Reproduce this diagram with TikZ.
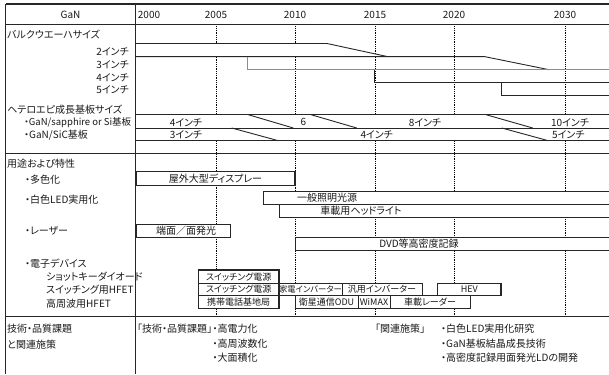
\documentclass[tikz,border=0pt]{standalone}
\usepackage{fontspec}
\setmainfont{Noto Sans CJK JP}[RawFeature={+palt}]
\usetikzlibrary{positioning}

\begin{document}
\begin{tikzpicture}[x=1pt, y=-1pt, font=\fontsize{10}{11}\selectfont,
    waku/.style={line width=1.2pt, black!85},
    sen/.style={line width=0.9pt, black!85},
    tensen/.style={densely dotted, line width=0.8pt, black},
    bar/.style={draw=black!85, line width=0.9pt, fill=white},
    futobar/.style={draw=black!85, line width=1.3pt, fill=white},
    lbl/.style={inner sep=0pt, text=black!90},
    devlbl/.style={lbl, font=\fontsize{9}{10}\selectfont}]
    \useasboundingbox (0,0) rectangle (609,374);

    % 年の点線
    \foreach \x in {216,295,375,454,565}
        \draw[tensen] (\x,24.5) -- (\x,316.7);

    % 白抜き
    \fill[white] (136,43.5) -- (327,43.5) -- (388,56.7) -- (136,56.7) -- cycle;
    \fill[white] (136,114.7) rectangle (609,140.7);

    % バルクウエーハ
    \draw[sen] (136,43.5) -- (327,43.5) -- (388,56.7);
    \draw[sen] (136,56.7) -- (485,56.7) -- (549,69.7);
    \draw[sen, black!45] (247,56.7) -- (247,69.7) -- (609,69.7);
    \draw[sen] (374.3,69.7) -- (374.3,82.3) -- (609,82.3);
    \draw[sen] (501.7,82.3) -- (501.7,95.7) -- (609,95.7);

    % ヘテロエピ基板
    \draw[sen] (136,114.7) -- (609,114.7);
    \draw[sen] (136,128) -- (609,128);
    \draw[sen] (136,140.7) -- (609,140.7);
    \draw[sen] (248.3,114.7) -- (293.3,128);
    \draw[sen] (311,114.7) -- (356.7,128);
    \draw[sen] (486,114.7) -- (532.7,128);
    \draw[sen] (231.7,128) -- (278.3,140.7);
    \draw[sen] (501.7,128) -- (548.3,140.7);

    % 用途の帯
    \draw[bar] (136,171.5) rectangle (295,185.5);
    \draw[line width=1.4pt, black!85] (295,171.5) -- (295,185.5);
    \draw[bar] (263.5,191.7) rectangle (612,204.3);
    \draw[bar] (279,204.3) rectangle (612,217);
    \draw[bar] (136,224) rectangle (230,237.3);
    \draw[bar] (295,237.3) rectangle (612,250);

    % 電子デバイス
    \draw[bar] (279,283.3) rectangle (342,295.7);
    \draw[bar] (342,283.3) rectangle (422,295.7);
    \draw[bar] (437.7,283.3) rectangle (501,295.7);
    \draw[line width=1.4pt, black!85] (501,283.3) -- (501,295.7);
    \draw[bar] (295,295.7) rectangle (358,308.3);
    \draw[bar] (358,295.7) rectangle (390,308.3);
    \draw[bar] (390,295.7) rectangle (470,308.3);
    \draw[futobar] (198.5,270) rectangle (279,283.3);
    \draw[futobar] (198.5,283.3) rectangle (279,295.7);
    \draw[futobar] (198.5,295.7) rectangle (279,308.3);

    % 枠
    \draw[waku] (5.8,4) -- (609,4);
    \draw[waku] (5.8,4) -- (5.8,374);
    \draw[waku] (135.5,4) -- (135.5,374);
    \draw[waku] (5.8,24.5) -- (609,24.5);
    \draw[waku] (5.8,153.7) -- (609,153.7);
    \draw[waku] (5.8,316.7) -- (609,316.7);

    % 見出し
    \node[lbl] (gan) at (70.6,15) {GaN};
    \foreach \x/\yr in {149/2000, 216/2005, 295/2010, 375/2015, 454/2020, 565/2030}
        \node[lbl] (y\yr) at (\x,15) {\yr};

    % 左の項目
    \node[lbl, anchor=west] (bulk) at (7,34) {バルクウエーハサイズ};
    \node[lbl, anchor=east] (b2) at (129,51.7) {2インチ};
    \node[lbl, anchor=east] (b3) at (129,64.3) {3インチ};
    \node[lbl, anchor=east] (b4) at (129,77.3) {4インチ};
    \node[lbl, anchor=east] (b5) at (129,89.3) {5インチ};
    \node[lbl, anchor=west] (hetero) at (7,109.3) {ヘテロエピ成長基板サイズ};
    \node[lbl, anchor=west, font=\fontsize{9.5}{10}\selectfont] (sapph) at (24,122.3) {・GaN/sapphire or Si基板};
    \node[lbl, anchor=west] (sic) at (24,135) {・GaN/SiC基板};
    \node[lbl, anchor=west] (yoto) at (7,163.5) {用途および特性};
    \node[lbl, anchor=west] (tasyoku) at (25,179.3) {・多色化};
    \node[lbl, anchor=west] (hakusyoku) at (25,199.3) {・白色LED実用化};
    \node[lbl, anchor=west] (laser) at (25,230.7) {・レーザー};
    \node[lbl, anchor=west] (denshi) at (25,263.3) {・電子デバイス};
    \node[lbl, anchor=west] (schottky) at (46,276.7) {ショットキーダイオード};
    \node[lbl, anchor=west] (swhfet) at (46,290) {スイッチング用HFET};
    \node[lbl, anchor=west] (rfhfet) at (46,303.3) {高周波用HFET};
    \node[lbl, anchor=west] (gijutsu) at (7,328.3) {技術・品質課題};
    \node[lbl, anchor=west] (kanren) at (7,345) {と関連施策};

    % 基板の文字
    \node[lbl] (s4) at (186,122.3) {4インチ};
    \node[lbl] (s6) at (303.3,122.3) {6};
    \node[lbl] (s8) at (425,122.3) {8インチ};
    \node[lbl] (s10) at (570,122.3) {10インチ};
    \node[lbl] (c3) at (186,135) {3インチ};
    \node[lbl] (c4) at (376.7,135) {4インチ};
    \node[lbl] (c5) at (568.3,135) {5インチ};

    % 用途の文字
    \node[lbl] (okugai) at (215.5,178.5) {屋外大型ディスプレー};
    \node[lbl] (ippan) at (327,198) {一般照明光源};
    \node[lbl] (head) at (361,210.7) {車載用ヘッドライト};
    \node[lbl] (tanmen) at (186,230.7) {端面／面発光};
    \node[lbl] (dvd) at (419,243.7) {DVD等高密度記録};
    \node[devlbl] (sw1) at (238.7,276.7) {スイッチング電源};
    \node[devlbl] (sw2) at (238.7,289.5) {スイッチング電源};
    \node[devlbl, font=\fontsize{8.3}{9}\selectfont] (kaden) at (310.5,289.5) {家電インバーター};
    \node[devlbl] (hanyo) at (382,289.5) {汎用インバーター};
    \node[devlbl] (hev) at (469.3,289.5) {HEV};
    \node[devlbl] (keitai) at (238.7,302) {携帯電話基地局};
    \node[devlbl] (eisei) at (326.5,302) {衛星通信ODU};
    \node[devlbl] (wimax) at (374,302) {WiMAX};
    \node[devlbl] (radar) at (430,302) {車載レーダー};

    % 課題と施策
    \node[lbl, anchor=west] (kadai) at (137,328.3) {「技術・品質課題」};
    \node[lbl, right=0pt of kadai] (denryoku) {・高電力化};
    \node[lbl, anchor=west] (shuhasu) at (denryoku.west |- 0,344) {・高周波数化};
    \node[lbl, anchor=west] (menseki) at (denryoku.west |- 0,357.3) {・大面積化};
    \node[lbl, anchor=west] (sesaku) at (375,328.3) {「関連施策」};
    \node[lbl, anchor=west] (ledken) at (441,328.3) {・白色LED実用化研究};
    \node[lbl, anchor=west] (kessho) at (441,344) {・GaN基板結晶成長技術};
    \node[lbl, anchor=west] (ldkai) at (441,357.3) {・高密度記録用面発光LDの開発};
\end{tikzpicture}
\end{document}
